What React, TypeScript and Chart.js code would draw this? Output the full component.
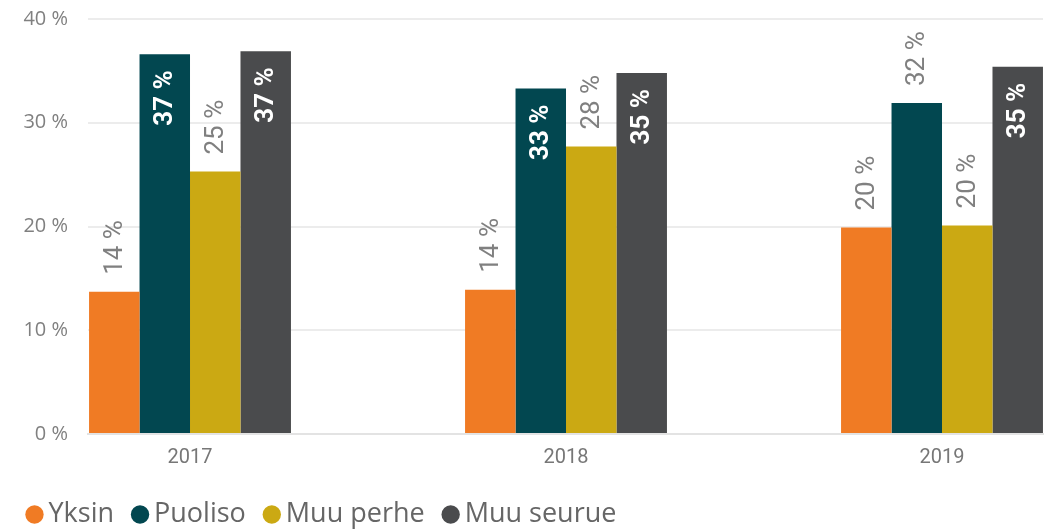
import React, { useEffect, useRef } from 'react';
import { Chart, registerables } from 'chart.js';

Chart.register(...registerables);

const years = ['2017', '2018', '2019'];
const seriesNames = ['Yksin', 'Puoliso', 'Muu perhe', 'Muu seurue'];
const yksin = [13.7, 13.9, 19.9];
const puoliso = [36.6, 33.3, 31.9];
const muuPerhe = [25.3, 27.7, 20.1];
const muuSeurue = [36.9, 34.8, 35.4];
const seriesValues = [yksin, puoliso, muuPerhe, muuSeurue];
const yTickValues = [0, 10, 20, 30, 40];
const seriesColors = ['#F07B24', '#024750', '#CBA913', '#4A4B4D'];
// where Power BI placed each data label: inside the bar end or above it
const labelInside = [
  [false, false, false],
  [true, true, false],
  [false, false, false],
  [true, true, true],
];

const dataLabelPlugin = {
  id: 'dataLabels',
  afterDatasetsDraw(chart: any) {
    const ctx = chart.ctx;
    chart.data.datasets.forEach((ds: any, di: number) => {
      const meta = chart.getDatasetMeta(di);
      meta.data.forEach((bar: any, i: number) => {
        const v = seriesValues[di][i];
        const text = Math.round(v) + ' %';
        const inside = labelInside[di][i];
        ctx.save();
        ctx.translate(bar.x, bar.y);
        ctx.rotate(-Math.PI / 2);
        ctx.textBaseline = 'middle';
        if (inside) {
          ctx.font = 'bold 26px Roboto';
          ctx.fillStyle = '#ffffff';
          ctx.textAlign = 'right';
          ctx.fillText(text, -16, 1);
        } else {
          ctx.font = '26px Roboto';
          ctx.fillStyle = '#808080';
          ctx.textAlign = 'left';
          ctx.fillText(text, 17, 1);
        }
        ctx.restore();
      });
    });
  },
};

export default function App() {
  const canvasRef = useRef<HTMLCanvasElement | null>(null);

  useEffect(() => {
    document.body.style.margin = '0';
    document.body.style.overflow = 'hidden';
    const canvas = canvasRef.current;
    if (!canvas) return;
    const chart = new Chart(canvas, {
      type: 'bar',
      data: {
        datasets: seriesNames.map((name, di) => ({
          label: name,
          data: seriesValues[di].map((v, i) => ({ x: i, y: v })),
          backgroundColor: seriesColors[di],
          borderWidth: 0,
          categoryPercentage: 0.537,
          barPercentage: 1,
        })),
      },
      options: {
        animation: false,
        responsive: true,
        maintainAspectRatio: false,
        layout: { padding: { left: 8.5, right: 8, top: 19, bottom: -8 } },
        plugins: {
          tooltip: { enabled: false },
          legend: {
            position: 'bottom',
            align: 'start',
            labels: {
              usePointStyle: true,
              pointStyle: 'circle',
              boxWidth: 1,
              boxHeight: 13,
              padding: 25.5,
              color: '#666666',
              font: { family: 'Open Sans', size: 27 },
            },
          },
        },
        scales: {
          x: {
            type: 'linear',
            min: -0.2713,
            max: 2.2686,
            offset: false,
            grid: { display: false, drawTicks: false, offset: false },
            border: { display: true, color: '#e3e3e3', width: 2 },
            afterBuildTicks: (scale: any) => {
              scale.ticks = years.map((_, i) => ({ value: i }));
            },
            afterFit: (scale: any) => {
              scale.height = 41.5;
            },
            ticks: {
              autoSkip: false,
              maxRotation: 0,
              padding: 12,
              color: '#777777',
              font: { family: 'Roboto', size: 20 },
              callback: (value: any) => years[value] ?? '',
            },
          },
          y: {
            min: 0,
            max: 40,
            afterBuildTicks: (scale: any) => {
              scale.ticks = yTickValues.map((v) => ({ value: v }));
            },
            afterFit: (scale: any) => {
              scale.width = 79.5;
              scale.paddingTop = 0;
              scale.paddingBottom = 0;
            },
            grid: { color: '#ececec', lineWidth: 2, drawTicks: false },
            border: { display: false },
            ticks: {
              padding: 20,
              color: '#808080',
              font: { family: 'Open Sans', size: 20 },
              callback: (value: any) => value + ' %',
            },
          },
        },
      },
      plugins: [dataLabelPlugin],
    });
    return () => chart.destroy();
  }, []);

  return (
    <div style={{ position: 'relative', width: 1051, height: 530 }}>
      <canvas ref={canvasRef} />
    </div>
  );
}
